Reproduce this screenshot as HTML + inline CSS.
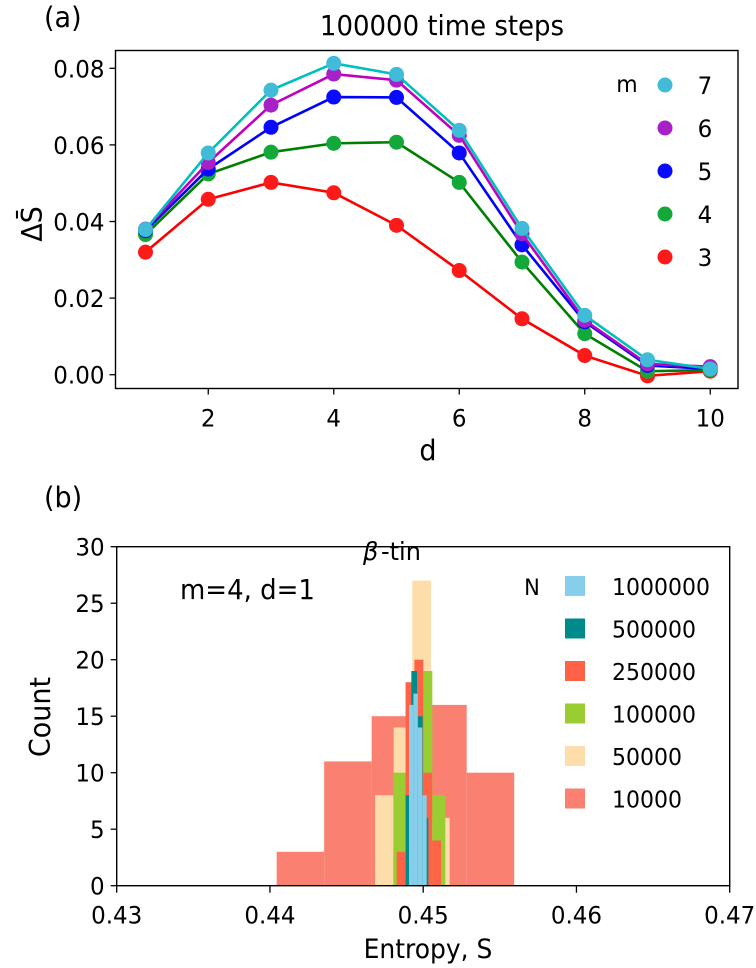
<!DOCTYPE html>
<html><head><meta charset="utf-8"><style>
html,body{margin:0;padding:0;background:#fff;}
svg{display:block;font-family:"DejaVu Sans","Liberation Sans",sans-serif;}
</style></head><body>
<svg id="fig" width="756" height="968" viewBox="0 0 756 968" xmlns="http://www.w3.org/2000/svg"></svg>
<script>
// ---- Panel (a) data ----
const dValues = [1,2,3,4,5,6,7,8,9,10];
const mLabels = ["3","4","5","6","7"];
const seriesM3 = [0.0320,0.0458,0.0502,0.0475,0.0390,0.0272,0.0146,0.0050,-0.0003,0.0009];
const seriesM4 = [0.0366,0.0524,0.0581,0.0604,0.0607,0.0502,0.0294,0.0107,0.0009,0.0012];
const seriesM5 = [0.0376,0.0537,0.0646,0.0725,0.0724,0.0579,0.0339,0.0138,0.0024,0.0015];
const seriesM6 = [0.0380,0.0554,0.0704,0.0785,0.0769,0.0625,0.0368,0.0142,0.0028,0.0021];
const seriesM7 = [0.0379,0.0579,0.0743,0.0813,0.0784,0.0638,0.0382,0.0155,0.0039,0.0015];
const aYTicks = [0.00,0.02,0.04,0.06,0.08];
const aYTickLabels = ["0.00","0.02","0.04","0.06","0.08"];
const aXTicks = [2,4,6,8,10];
// ---- Panel (b) data ----
const nLabels = ["1000000","500000","250000","100000","50000","10000"];
const hist10000Start = 0.440438, hist10000Width = 0.003100;
const hist10000Counts = [3,11,15,16,10];
const hist50000Start = 0.446855, hist50000Width = 0.001218;
const hist50000Counts = [8,14,27,6];
const hist100000Start = 0.448051, hist100000Width = 0.000848;
const hist100000Counts = [10,18,19,8];
const hist250000Start = 0.448269, hist250000Width = 0.000579;
const hist250000Counts = [3,18,20,10,4];
const hist500000Start = 0.448855, hist500000Width = 0.000370;
const hist500000Counts = [8,19,15,6];
const hist1000000Start = 0.449074, hist1000000Width = 0.000288;
const hist1000000Counts = [16,17,14,8];
const bXTicks = [0.43,0.44,0.45,0.46,0.47];
const bXTickLabels = ["0.43","0.44","0.45","0.46","0.47"];
const bYTicks = [0,5,10,15,20,25,30];

const NS="http://www.w3.org/2000/svg";
const svg=document.getElementById('fig');
const SY=1.05;
function mk(tag,attrs,parent){const e=document.createElementNS(NS,tag);for(const k in attrs)e.setAttribute(k,attrs[k]);(parent||svg).appendChild(e);return e;}
function txt(s,x,y,size,anchor,parent,extra){
  const a={x:0,y:0,'font-size':size,'text-anchor':anchor||'start',transform:'translate('+x+','+y+') scale(1,'+SY+')'};
  if(extra)for(const k in extra)a[k]=extra[k];
  const e=mk('text',a,parent);e.textContent=s;return e;}
function vtxt(s,x,y,size,parent){
  const e=mk('text',{x:0,y:0,'font-size':size,'text-anchor':'middle',transform:'translate('+x+','+y+') rotate(-90) scale(1,'+SY+')'},parent);e.textContent=s;return e;}

// ===== Panel A =====
const aL=115.5,aR=738,aT=50.5,aB=388.5;
const ax=d=>145.5+(d-1)*62.75;
const ay=v=>374.7-v*3830;
const gA=mk('g',{});


let t=txt('(a)',44,27,27,'start',gA);

t=txt('100000 time steps',442,35,26,'middle',gA);

aYTicks.forEach((v,i)=>{
  const l=mk('line',{x1:aL-6,x2:aL,y1:ay(v),y2:ay(v),stroke:'#000','stroke-width':1.3},gA);
  
  const tl=txt(aYTickLabels[i],aL-11,ay(v)+9,23,'end',gA);
  
});
aXTicks.forEach(v=>{
  const l=mk('line',{x1:ax(v),x2:ax(v),y1:aB,y2:aB+6,stroke:'#000','stroke-width':1.3},gA);
  
  const tl=txt(String(v),ax(v),aB+38,23,'middle',gA);
  
});
t=txt('d',428,460,27,'middle',gA);

t=vtxt('ΔS̄',42,224,27,gA);


const aSeries=[
 {vals:seriesM3,line:'#ff0000',mark:'#ff1a1a',name:'m3'},
 {vals:seriesM4,line:'#008000',mark:'#12a83a',name:'m4'},
 {vals:seriesM5,line:'#0000ff',mark:'#0a0aff',name:'m5'},
 {vals:seriesM6,line:'#bf00bf',mark:'#a820c8',name:'m6'},
 {vals:seriesM7,line:'#00bfbf',mark:'#40bcd8',name:'m7'}
];
aSeries.forEach(s=>{
  const g=mk('g',{},gA);
  
  const pts=s.vals.map((v,i)=>ax(dValues[i])+','+ay(v)).join(' ');
  const pl=mk('polyline',{points:pts,fill:'none',stroke:s.line,'stroke-width':2.6},g);
  
  s.vals.forEach((v,i)=>{
    const c=mk('circle',{cx:ax(dValues[i]),cy:ay(v),r:7.5,fill:s.mark},g);
    
  });
});
const fA=mk('rect',{x:aL,y:aT,width:aR-aL,height:aB-aT,fill:'none',stroke:'#000','stroke-width':1.4},gA);

// legend a
const lgA=mk('g',{},gA);

t=txt('m',627,92,22,'middle',lgA);

const legOrder=[4,3,2,1,0];
legOrder.forEach((si,k)=>{
  const yy=85+k*43;
  const c=mk('circle',{cx:665,cy:yy,r:7.5,fill:aSeries[si].mark},lgA);
  
  const tl=txt(mLabels[si],705,yy+9,23,'middle',lgA);
  
});

// ===== Panel B =====
const bL=116.7,bR=729.7,bT=546.7,bB=885.7;
const bx=v=>bL+(v-0.43)*15325;
const by=c=>bB-c*11.3;
const gB=mk('g',{});

t=txt('(b)',44,507,27,'start',gB);

t=txt('β',363,560,24,'start',gB,{'font-style':'italic'});

t=txt('-tin',381,560,24,'start',gB);


const hists=[
 {start:hist10000Start,w:hist10000Width,counts:hist10000Counts,color:'#fa8072',name:'10000'},
 {start:hist50000Start,w:hist50000Width,counts:hist50000Counts,color:'#fddeaa',name:'50000'},
 {start:hist100000Start,w:hist100000Width,counts:hist100000Counts,color:'#9acd32',name:'100000'},
 {start:hist250000Start,w:hist250000Width,counts:hist250000Counts,color:'#ff6347',name:'250000'},
 {start:hist500000Start,w:hist500000Width,counts:hist500000Counts,color:'#008b8b',name:'500000'},
 {start:hist1000000Start,w:hist1000000Width,counts:hist1000000Counts,color:'#87ceeb',name:'1000000'}
];
hists.forEach(h=>{
  const g=mk('g',{},gB);
  
  h.counts.forEach((c,i)=>{
    const x0=bx(h.start+i*h.w),x1=bx(h.start+(i+1)*h.w);
    const r=mk('rect',{x:x0,y:by(c),width:x1-x0,height:bB-by(c),fill:h.color},g);
    
  });
});
bYTicks.forEach(v=>{
  const l=mk('line',{x1:bL-6,x2:bL,y1:by(v),y2:by(v),stroke:'#000','stroke-width':1.3},gB);
  
  const tl=txt(String(v),bL-12,by(v)+9,23,'end',gB);
  
});
bXTicks.forEach((v,i)=>{
  const l=mk('line',{x1:bx(v),x2:bx(v),y1:bB,y2:bB+7,stroke:'#000','stroke-width':1.3},gB);
  
  const tl=txt(bXTickLabels[i],bx(v),bB+38,23,'middle',gB);
  
});
t=txt('Entropy, S',428,958,25,'middle',gB);

t=vtxt('Count',50,717,27,gB);

t=txt('m=4, d=1',180,599,26,'start',gB);

const fB=mk('rect',{x:bL,y:bT,width:bR-bL,height:bB-bT,fill:'none',stroke:'#000','stroke-width':1.4},gB);

// legend b
const lgB=mk('g',{},gB);

t=txt('N',532,595,21,'middle',lgB);

const legB=[5,4,3,2,1,0];
legB.forEach((hi,k)=>{
  const yy=586+k*42.5;
  const r=mk('rect',{x:565,y:yy-10,width:20,height:20,fill:hists[hi].color},lgB);
  
  const tl=txt(nLabels[k],612,yy+9,22,'start',lgB);
  
});
</script>
</body></html>
